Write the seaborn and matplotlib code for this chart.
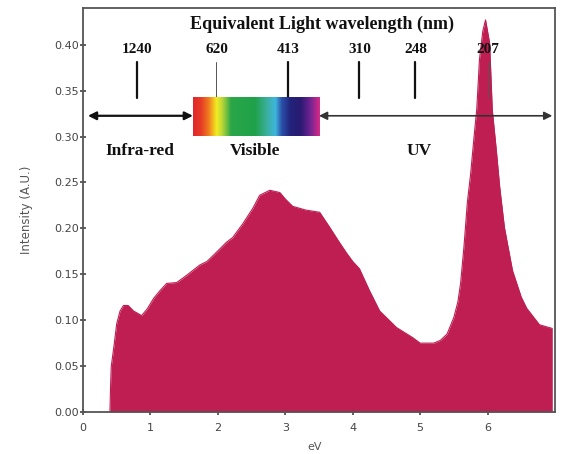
import numpy as np
import pandas as pd
import matplotlib
matplotlib.use("Agg")
import matplotlib.pyplot as plt
from matplotlib.colors import LinearSegmentedColormap
import seaborn as sns

# ---- data ----
energy_ev = [0.40, 0.41, 0.42, 0.46, 0.50, 0.55, 0.60, 0.67, 0.75, 0.87, 0.95, 1.05,
             1.14, 1.24, 1.39, 1.54, 1.73, 1.84, 1.98, 2.13, 2.22, 2.37, 2.52, 2.62,
             2.77, 2.92, 3.00, 3.11, 3.30, 3.51, 3.66, 3.80, 3.91, 4.00, 4.10, 4.25,
             4.40, 4.65, 4.89, 5.00, 5.20, 5.30, 5.40, 5.50, 5.56, 5.60, 5.65, 5.70,
             5.75, 5.80, 5.84, 5.88, 5.93, 5.97, 6.03, 6.07, 6.13, 6.18, 6.25, 6.37,
             6.50, 6.58, 6.77, 6.96]
intensity = [0.000, 0.030, 0.050, 0.072, 0.096, 0.110, 0.116, 0.116, 0.110, 0.105, 0.112, 0.124,
             0.132, 0.140, 0.141, 0.149, 0.160, 0.164, 0.174, 0.185, 0.190, 0.205, 0.222, 0.236,
             0.2415, 0.239, 0.232, 0.224, 0.220, 0.2175, 0.201, 0.185, 0.173, 0.164, 0.156, 0.132,
             0.110, 0.092, 0.081, 0.075, 0.075, 0.078, 0.085, 0.103, 0.120, 0.140, 0.180, 0.228,
             0.260, 0.300, 0.330, 0.384, 0.415, 0.427, 0.402, 0.329, 0.285, 0.245, 0.201, 0.154,
             0.125, 0.113, 0.095, 0.091]

wavelength_labels = ["1240", "620", "413", "310", "248", "207"]
wavelength_pos_ev = [0.80, 1.98, 3.04, 4.10, 4.93, 6.00]
region_labels = ["Infra-red", "Visible", "UV"]
region_pos_ev = [0.84, 2.55, 4.99]
x_ticks = [0, 1, 2, 3, 4, 5, 6]
y_ticks = [0.00, 0.05, 0.10, 0.15, 0.20, 0.25, 0.30, 0.35, 0.40]

df = pd.DataFrame({"eV": energy_ev, "Intensity": intensity})

sns.set_theme(style="white")
plt.rcParams["font.family"] = ["DejaVu Sans"]

fig = plt.figure(figsize=(5.75, 4.54), dpi=100)
ax = fig.add_axes([0.1443, 0.0925, 0.9652 - 0.1443, 0.9824 - 0.0925])

fill_col = "#BE1E52"
sns.lineplot(data=df, x="eV", y="Intensity", color=fill_col, lw=0.8, ax=ax)
ax.fill_between(df["eV"], 0, df["Intensity"], color=fill_col, lw=0)

ax.set_xlim(0, 7.0)
ax.set_ylim(0, 0.44)
ax.set_xticks(x_ticks)
ax.set_xticklabels([str(v) for v in x_ticks])
ax.set_yticks(y_ticks)
ax.set_yticklabels([f"{v:.2f}" for v in y_ticks])
ax.tick_params(axis="both", bottom=True, left=True, labelsize=8, colors="#444444",
               length=4, width=1.2, direction="inout")
ax.tick_params(axis="x", pad=6)
ax.tick_params(axis="y", pad=1)
for sp in ax.spines.values():
    sp.set_color("#555555")
    sp.set_linewidth(1.3)
ax.set_xlabel("eV", fontsize=8, color="#555555", labelpad=7)
ax.xaxis.set_label_coords(0.49, -0.075)
ax.set_ylabel("Intensity (A.U.)", fontsize=8.5, color="#555555", labelpad=15)

serif = ["Liberation Serif", "DejaVu Serif"]
# title annotation
ax.text(3.54, 0.4218, "Equivalent Light wavelength (nm)", ha="center", va="center",
        fontsize=13, fontweight="bold", family=serif, color="#111111")
# wavelength labels and tick lines
for lab, xp in zip(wavelength_labels, wavelength_pos_ev):
    ax.text(xp, 0.3946, lab, ha="center", va="center", fontsize=11,
            fontweight="bold", family=serif, color="#111111")
    lw = 0.7 if lab in ("620", "207") else 1.6
    col = "#555555" if lab in ("620", "207") else "#111111"
    ax.plot([xp, xp], [0.3422, 0.3815], color=col, lw=lw)

# spectrum bar
cmap = LinearSegmentedColormap.from_list("spec", [
    (0.00, "#E3262B"), (0.06, "#E53A26"), (0.12, "#F0781E"), (0.185, "#F2EC22"),
    (0.23, "#B8D638"), (0.30, "#2AA648"), (0.49, "#1FA14A"), (0.58, "#3AAE9A"),
    (0.65, "#3FB6DE"), (0.70, "#2B4FA8"), (0.77, "#22237A"), (0.85, "#2A1A72"),
    (0.92, "#6A2390"), (1.00, "#D62A8A")])
grad = np.linspace(0, 1, 256).reshape(1, -1)
ax.imshow(grad, extent=[1.63, 3.50, 0.3008, 0.3422], aspect="auto", cmap=cmap,
          zorder=3, interpolation="bilinear")
ax.set_xlim(0, 7.0)
ax.set_ylim(0, 0.44)

# arrows
ax.annotate("", xy=(0.074, 0.3226), xytext=(1.63, 0.3226),
            arrowprops=dict(arrowstyle="<|-|>", color="#111111", lw=1.6,
                            mutation_scale=12, shrinkA=0, shrinkB=0))
ax.annotate("", xy=(3.50, 0.3226), xytext=(6.96, 0.3226),
            arrowprops=dict(arrowstyle="<|-|>", color="#333333", lw=1.2,
                            mutation_scale=12, shrinkA=0, shrinkB=0), zorder=4)

for lab, xp in zip(region_labels, region_pos_ev):
    ax.text(xp, 0.2845, lab, ha="center", va="center", fontsize=12.5,
            fontweight="bold", family=serif, color="#111111")

fig.savefig("out.png", dpi=100)
